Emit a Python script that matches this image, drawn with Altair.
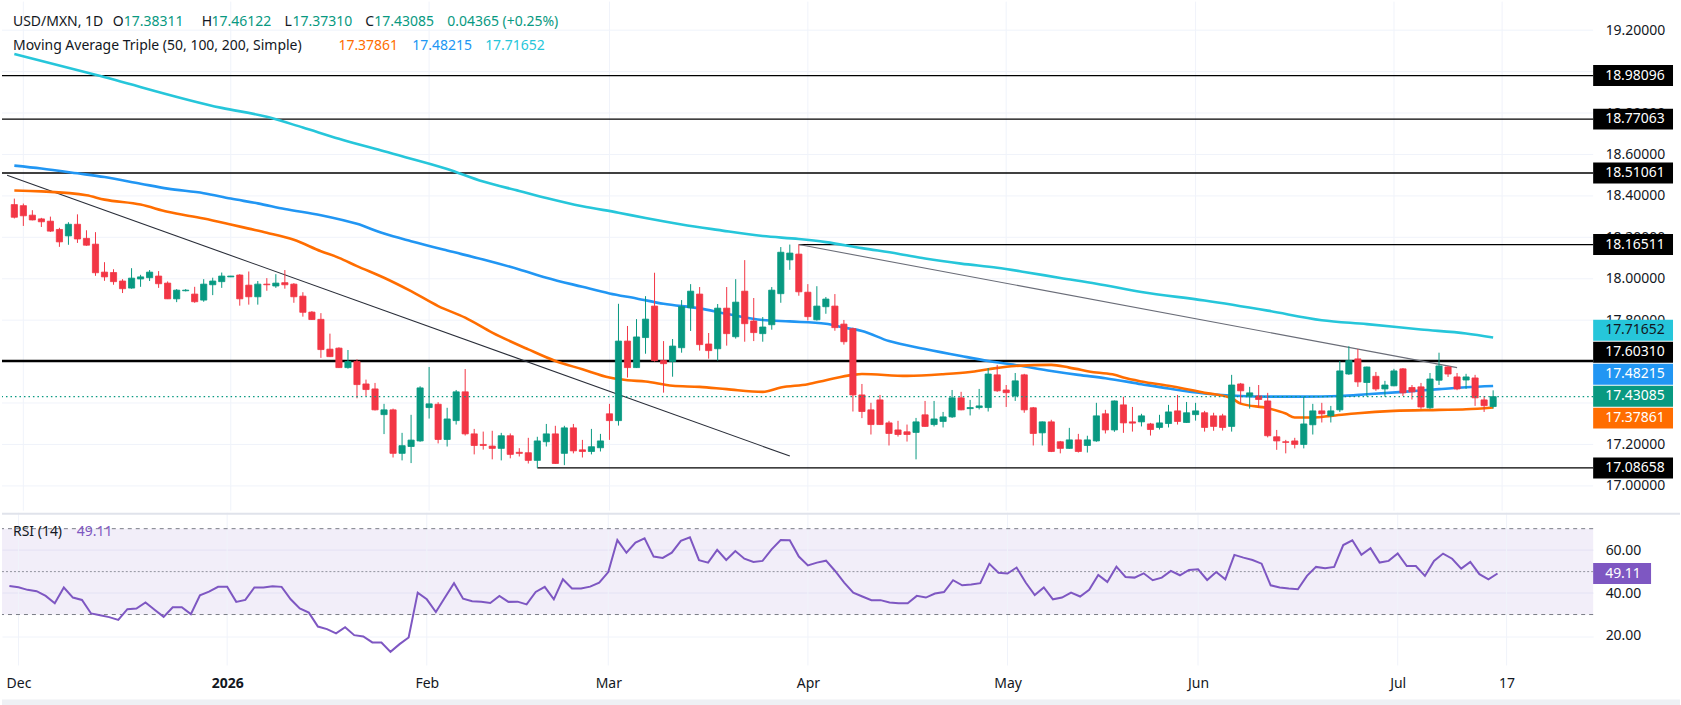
import altair as alt
import pandas as pd
import numpy as np

# ---------------- data ----------------
# daily candles, 2025-11-28 .. 2026-07-16 (weekdays)
opens = [
 18.358, 18.353, 18.307, 18.289, 18.278, 18.238, 18.207, 18.263, 18.195, 18.167,
 18.032, 18.030, 17.989, 17.955, 17.999, 18.005, 18.013, 17.979, 17.903, 17.942,
 17.926, 17.897, 17.971, 17.986, 18.009, 18.018, 17.969, 17.913, 17.974, 17.965,
 17.981, 17.974, 17.916, 17.839, 17.804, 17.660, 17.665, 17.571, 17.600, 17.492,
 17.468, 17.344, 17.367, 17.157, 17.190, 17.217, 17.378, 17.394, 17.224, 17.315,
 17.454, 17.251, 17.200, 17.192, 17.181, 17.242, 17.162, 17.160, 17.123, 17.213,
 17.251, 17.157, 17.280, 17.174, 17.166, 17.184, 17.348, 17.315, 17.699, 17.571,
 17.716, 17.868, 17.605, 17.600, 17.667, 17.860, 17.926, 17.685, 17.662, 17.858,
 17.720, 17.940, 17.796, 17.735, 17.778, 17.928, 18.091, 18.119, 17.935, 17.802,
 17.865, 17.868, 17.781, 17.759, 17.439, 17.367, 17.415, 17.304, 17.270, 17.261,
 17.258, 17.343, 17.296, 17.311, 17.333, 17.425, 17.373, 17.378, 17.378, 17.536,
 17.463, 17.434, 17.536, 17.377, 17.256, 17.309, 17.213, 17.181, 17.222, 17.195,
 17.217, 17.348, 17.270, 17.391, 17.309, 17.309, 17.299, 17.282, 17.301, 17.362,
 17.306, 17.344, 17.353, 17.338, 17.338, 17.287, 17.492, 17.434, 17.434, 17.410,
 17.237, 17.213, 17.217, 17.200, 17.295, 17.362, 17.338, 17.367, 17.540, 17.613,
 17.499, 17.529, 17.468, 17.483, 17.565, 17.475, 17.478, 17.377, 17.510, 17.574,
 17.526, 17.511, 17.521, 17.415, 17.38311]
highs = [
 18.387, 18.363, 18.331, 18.294, 18.300, 18.246, 18.273, 18.311, 18.234, 18.225,
 18.080, 18.046, 17.998, 18.051, 18.019, 18.042, 18.037, 17.987, 17.950, 17.950,
 17.961, 17.998, 18.005, 18.030, 18.014, 18.022, 18.035, 17.989, 18.003, 18.022,
 18.042, 17.979, 17.935, 17.844, 17.834, 17.735, 17.669, 17.656, 17.611, 17.513,
 17.497, 17.396, 17.373, 17.256, 17.343, 17.481, 17.574, 17.404, 17.377, 17.463,
 17.564, 17.275, 17.262, 17.266, 17.256, 17.253, 17.182, 17.232, 17.237, 17.299,
 17.290, 17.290, 17.299, 17.222, 17.275, 17.251, 17.396, 17.879, 17.772, 17.805,
 17.916, 18.029, 17.699, 17.709, 17.897, 17.974, 17.960, 17.738, 17.878, 17.960,
 17.998, 18.090, 17.907, 17.815, 17.960, 18.153, 18.165, 18.16511, 17.974, 17.964,
 17.912, 17.926, 17.801, 17.764, 17.492, 17.401, 17.439, 17.314, 17.314, 17.296,
 17.328, 17.410, 17.410, 17.357, 17.463, 17.454, 17.415, 17.468, 17.569, 17.584,
 17.487, 17.545, 17.541, 17.381, 17.311, 17.319, 17.217, 17.280, 17.251, 17.242,
 17.401, 17.367, 17.412, 17.430, 17.381, 17.348, 17.304, 17.343, 17.391, 17.439,
 17.405, 17.401, 17.362, 17.353, 17.348, 17.536, 17.497, 17.478, 17.487, 17.449,
 17.270, 17.222, 17.232, 17.430, 17.396, 17.401, 17.386, 17.603, 17.674, 17.661,
 17.576, 17.550, 17.507, 17.565, 17.569, 17.487, 17.497, 17.545, 17.643, 17.579,
 17.545, 17.541, 17.536, 17.434, 17.46122]
lows = [
 18.291, 18.255, 18.282, 18.250, 18.226, 18.154, 18.164, 18.173, 18.159, 18.014,
 17.990, 17.971, 17.931, 17.952, 17.961, 17.989, 17.956, 17.902, 17.887, 17.939,
 17.884, 17.889, 17.921, 17.956, 18.008, 17.870, 17.875, 17.875, 17.942, 17.956,
 17.952, 17.884, 17.817, 17.801, 17.618, 17.622, 17.569, 17.566, 17.423, 17.434,
 17.364, 17.250, 17.137, 17.123, 17.110, 17.213, 17.325, 17.205, 17.190, 17.296,
 17.243, 17.152, 17.175, 17.128, 17.123, 17.133, 17.142, 17.108, 17.0866, 17.190,
 17.106, 17.100, 17.157, 17.137, 17.152, 17.166, 17.222, 17.291, 17.523, 17.569,
 17.638, 17.600, 17.450, 17.527, 17.643, 17.748, 17.653, 17.614, 17.605, 17.677,
 17.711, 17.696, 17.699, 17.696, 17.754, 17.884, 18.043, 17.918, 17.798, 17.798,
 17.831, 17.749, 17.682, 17.359, 17.327, 17.248, 17.294, 17.195, 17.238, 17.214,
 17.128, 17.285, 17.287, 17.282, 17.328, 17.365, 17.340, 17.369, 17.359, 17.454,
 17.381, 17.410, 17.353, 17.195, 17.195, 17.163, 17.157, 17.179, 17.161, 17.161,
 17.213, 17.253, 17.261, 17.256, 17.262, 17.287, 17.243, 17.272, 17.282, 17.296,
 17.304, 17.315, 17.262, 17.266, 17.267, 17.262, 17.396, 17.373, 17.378, 17.234,
 17.174, 17.157, 17.181, 17.181, 17.248, 17.306, 17.306, 17.357, 17.536, 17.478,
 17.431, 17.459, 17.430, 17.481, 17.434, 17.417, 17.372, 17.372, 17.487, 17.526,
 17.462, 17.468, 17.386, 17.357, 17.37310]
closes = [
 18.297, 18.304, 18.284, 18.275, 18.230, 18.178, 18.263, 18.192, 18.162, 18.029,
 18.009, 17.986, 17.952, 18.003, 18.009, 18.032, 17.976, 17.903, 17.945, 17.945,
 17.889, 17.974, 17.989, 18.013, 18.013, 17.903, 17.913, 17.974, 17.971, 17.979,
 17.971, 17.913, 17.838, 17.803, 17.658, 17.624, 17.571, 17.600, 17.489, 17.465,
 17.367, 17.367, 17.157, 17.194, 17.221, 17.473, 17.396, 17.224, 17.323, 17.454,
 17.251, 17.195, 17.195, 17.181, 17.242, 17.152, 17.157, 17.123, 17.217, 17.251,
 17.108, 17.280, 17.169, 17.166, 17.189, 17.217, 17.315, 17.699, 17.571, 17.719,
 17.805, 17.605, 17.590, 17.675, 17.865, 17.940, 17.682, 17.653, 17.858, 17.735,
 17.887, 17.783, 17.740, 17.767, 17.945, 18.128, 18.124, 17.937, 17.817, 17.868,
 17.902, 17.764, 17.696, 17.439, 17.359, 17.296, 17.296, 17.253, 17.248, 17.248,
 17.309, 17.287, 17.323, 17.333, 17.425, 17.367, 17.378, 17.386, 17.540, 17.459,
 17.450, 17.507, 17.367, 17.253, 17.309, 17.166, 17.181, 17.222, 17.166, 17.222,
 17.338, 17.270, 17.410, 17.304, 17.303, 17.338, 17.272, 17.304, 17.357, 17.311,
 17.353, 17.362, 17.282, 17.287, 17.282, 17.487, 17.459, 17.449, 17.417, 17.242,
 17.217, 17.210, 17.200, 17.299, 17.362, 17.348, 17.362, 17.555, 17.605, 17.502,
 17.574, 17.468, 17.487, 17.555, 17.449, 17.454, 17.381, 17.516, 17.579, 17.540,
 17.468, 17.526, 17.425, 17.3872, 17.43085]

rsi_values = [
 43.3, 42.7, 41.5, 40.9, 38.7, 35.3, 42.6, 37.9, 36.8, 30.5,
 29.7, 28.8, 27.5, 32.5, 32.8, 35.6, 32.2, 28.9, 33.4, 33.4,
 30.2, 39.0, 40.7, 42.9, 42.9, 35.9, 36.8, 42.6, 42.6, 43.2,
 42.9, 37.1, 32.8, 30.9, 24.4, 23.2, 21.2, 24.1, 20.4, 19.8,
 17.0, 17.0, 12.6, 16.2, 19.3, 40.2, 37.1, 31.2, 37.9, 44.6,
 37.4, 36.2, 36.0, 35.4, 38.7, 35.9, 36.0, 34.7, 40.5, 42.9,
 37.1, 46.4, 42.1, 42.1, 43.0, 44.9, 49.8, 64.7, 58.8, 63.5,
 65.5, 57.0, 56.4, 58.8, 64.3, 66.0, 55.3, 54.2, 60.1, 55.4,
 59.6, 56.0, 54.5, 55.0, 60.4, 64.7, 64.6, 57.0, 52.9, 54.2,
 55.1, 50.3, 44.9, 40.2, 38.4, 36.7, 36.7, 35.6, 35.3, 35.3,
 38.7, 37.9, 39.8, 40.5, 46.0, 43.6, 44.0, 44.6, 53.6, 49.5,
 49.1, 51.9, 44.9, 39.1, 42.6, 37.1, 37.9, 40.2, 38.4, 41.5,
 48.4, 45.2, 52.3, 47.5, 47.2, 49.2, 46.0, 47.2, 50.3, 48.3,
 50.8, 51.1, 46.1, 49.8, 46.4, 57.8, 56.5, 55.4, 53.7, 43.6,
 42.6, 42.1, 41.8, 48.0, 52.2, 51.6, 52.2, 62.4, 64.6, 57.8,
 60.9, 54.2, 55.0, 58.5, 52.6, 52.6, 48.0, 55.0, 58.4, 56.0,
 51.4, 54.5, 48.8, 46.4, 49.11]

# moving averages, sampled at bar numbers (bar 0 = 2025-12-01)
ma50_bar = [-1, 2, 7, 9, 13, 16, 20, 23, 25, 27, 30, 33, 35, 37, 40, 43, 46, 49, 52, 56,
            59, 62, 65, 67, 69, 72, 75, 78, 82, 84, 87, 89, 92, 93, 98, 102, 105, 107, 110, 114,
            116, 119, 121, 122, 124, 127, 131, 134, 135, 138, 140, 141, 143, 145, 148, 152, 157, 160, 163]
ma50_val = [18.426, 18.422, 18.403, 18.382, 18.358, 18.323, 18.291, 18.262, 18.242, 18.222,
            18.188, 18.133, 18.101, 18.061, 18.005, 17.940, 17.868, 17.812, 17.740, 17.659,
            17.603, 17.563, 17.523, 17.510, 17.504, 17.483, 17.478, 17.467, 17.454, 17.475,
            17.491, 17.510, 17.536, 17.540, 17.531, 17.539, 17.550, 17.563, 17.579, 17.584,
            17.571, 17.547, 17.536, 17.523, 17.504, 17.483, 17.450, 17.423, 17.397, 17.375,
            17.349, 17.330, 17.330, 17.338, 17.351, 17.362, 17.367, 17.370, 17.37861]
ma100_bar = [-1, 2, 6, 9, 13, 16, 20, 23, 26, 29, 33, 37, 40, 43, 47, 51, 55, 58, 62, 65,
             68, 71, 75, 78, 82, 85, 89, 91, 93, 96, 100, 104, 107, 110, 114, 117, 120, 124, 127, 131,
             135, 138, 142, 146, 149, 153, 157, 160, 163]
ma100_val = [18.546, 18.532, 18.509, 18.491, 18.459, 18.435, 18.413, 18.387, 18.364, 18.337,
             18.307, 18.265, 18.218, 18.181, 18.136, 18.093, 18.045, 18.005, 17.961, 17.929,
             17.905, 17.879, 17.857, 17.831, 17.801, 17.794, 17.783, 17.764, 17.748, 17.699,
             17.661, 17.627, 17.603, 17.584, 17.555, 17.536, 17.520, 17.491, 17.470, 17.446,
             17.434, 17.431, 17.431, 17.434, 17.442, 17.454, 17.467, 17.476, 17.48215]
ma200_bar = [-1, 8, 22, 27, 31, 35, 40, 47, 51, 55, 58, 62, 66, 69, 73, 77, 82, 86, 89, 93,
             97, 100, 104, 108, 111, 115, 119, 124, 131, 138, 144, 149, 155, 160, 163]
ma200_val = [19.085, 18.985, 18.825, 18.782, 18.730, 18.676, 18.615, 18.530, 18.469, 18.424,
             18.390, 18.350, 18.319, 18.293, 18.262, 18.236, 18.206, 18.192, 18.177, 18.148,
             18.121, 18.098, 18.073, 18.053, 18.033, 18.004, 17.976, 17.936, 17.895, 17.846,
             17.800, 17.781, 17.755, 17.736, 17.71652]

# drawn levels and trend lines
full_levels = [18.98096, 18.77063, 18.51061]
key_level = 17.60310
part_levels = [18.16511, 17.08658]
part_start_bar = [86, 57]
trend1_bar = [-1.8, 85]
trend1_val = [18.500, 17.144]
trend2_bar = [86, 159]
trend2_val = [18.16511, 17.571]

tick_names = ["Dec", "2026", "Feb", "Mar", "Apr", "May", "Jun", "Jul", "17"]
tick_dates = ["2025-12-01", "2026-01-01", "2026-02-02", "2026-03-02", "2026-04-01",
              "2026-05-01", "2026-06-01", "2026-07-01", "2026-07-17"]
price_grid = [17.0, 17.2, 17.4, 17.6, 17.8, 18.0, 18.2, 18.4, 18.6, 18.8, 19.0, 19.2]
# price labels that are not fully covered by the level tags in the reference
price_labels = [17.0, 17.2, 17.8, 18.0, 18.2, 18.4, 18.6, 18.8, 19.2]
rsi_ticks = [20, 40, 60]

# ---------------- styling ----------------
FONT = "Noto Sans"
FS = 14
DARK = "#131722"
GREEN = "#089981"
RED = "#F23645"
ORANGE = "#FF6D00"
BLUE = "#2196F3"
TEAL = "#26C6DA"
PURPLE = "#7E57C2"
GRID = "#F0F3FA"
W, H_MAIN, H_RSI = 1594, 510, 153

dates = pd.bdate_range("2025-11-28", periods=len(closes))
bars = [int(b) for b in np.busday_count(np.datetime64("2025-12-01"), dates.values.astype("datetime64[D]"))]
tick_bars = [int(b) for b in np.busday_count(np.datetime64("2025-12-01"),
                                             np.array(tick_dates, dtype="datetime64[D]"))]

cdf = pd.DataFrame({"bar": bars, "date": dates.strftime("%Y-%m-%d"),
                    "o": opens, "h": highs, "l": lows, "c": closes})
cdf["dir"] = np.where(cdf["c"] >= cdf["o"], "up", "down")

xscale = alt.Scale(domain=[-1.815, 173.54], nice=False, zero=False)
yscale = alt.Scale(domain=[16.880, 19.338], nice=False, zero=False)
rscale = alt.Scale(domain=[6.28, 77.44], nice=False, zero=False)
dir_color = alt.Scale(domain=["up", "down"], range=[GREEN, RED])

# one axis definition shared by every layer that uses the scale
PAXIS = alt.Axis(orient="right", values=price_labels, format=".5f", grid=False,
                 domain=False, ticks=False, labelPadding=12,
                 labelAlign="left", labelFont=FONT, labelFontSize=FS,
                 labelColor=DARK, labelOverlap=False, labelFlush=False, title=None)
RAXIS = alt.Axis(orient="right", values=rsi_ticks, format=".2f", grid=True, gridColor=GRID,
                 domain=False, ticks=False, labelPadding=12, labelAlign="left",
                 labelFont=FONT, labelFontSize=FS, labelColor=DARK, title=None)

one = alt.Data(values=[{}])


def txt(s, x, y, color=DARK, weight="normal"):
    return alt.Chart(one).mark_text(align="left", baseline="middle", font=FONT, fontSize=FS,
                                    color=color, fontWeight=weight).encode(
        x=alt.value(x), y=alt.value(y), text=alt.value(s))


def PY(field):
    return alt.Y(field, scale=yscale, axis=PAXIS, title=None)


def MX(field):
    return alt.X(field, scale=xscale, axis=None, title=None)


ticks_df = pd.DataFrame({"bar": tick_bars, "name": tick_names})

# ---------------- main panel ----------------
vgrid = alt.Chart(ticks_df).mark_rule(color=GRID, strokeWidth=1).encode(x=MX("bar:Q"))
hgrid = alt.Chart(pd.DataFrame({"p": price_grid})).mark_rule(color=GRID, strokeWidth=1).encode(
    y=PY("p:Q"))

levels = alt.Chart(pd.DataFrame({"p": full_levels})).mark_rule(
    color="#000000", strokeWidth=1.3).encode(y=PY("p:Q"))
key = alt.Chart(pd.DataFrame({"p": [key_level]})).mark_rule(
    color="#000000", strokeWidth=2.6).encode(y=PY("p:Q"))
part_df = pd.DataFrame({"p": part_levels, "bar": part_start_bar})
parts = alt.Chart(part_df).mark_rule(color="#000000", strokeWidth=1.3).encode(
    x=MX("bar:Q"), x2=alt.value("width"), y=PY("p:Q"))


def line_layer(bx, vals, color, width, interp="monotone"):
    d = pd.DataFrame({"bar": bx, "v": vals})
    return alt.Chart(d).mark_line(color=color, strokeWidth=width, interpolate=interp).encode(
        x=MX("bar:Q"), y=PY("v:Q"))


t1 = line_layer(trend1_bar, trend1_val, "#2A2E39", 1.1, "linear")
t2 = line_layer(trend2_bar, trend2_val, "#6A6D78", 1.1, "linear")
m200 = line_layer(ma200_bar, ma200_val, TEAL, 2.6)
m100 = line_layer(ma100_bar, ma100_val, BLUE, 2.6)
m50 = line_layer(ma50_bar, ma50_val, ORANGE, 2.6)

wicks = alt.Chart(cdf).mark_rule(strokeWidth=1).encode(
    x=MX("bar:Q"), y=PY("l:Q"), y2="h:Q",
    color=alt.Color("dir:N", scale=dir_color, legend=None))
bodies = alt.Chart(cdf).mark_bar(width=6.2, strokeWidth=0.8).encode(
    x=MX("bar:Q"), y=PY("o:Q"), y2="c:Q",
    color=alt.Color("dir:N", scale=dir_color, legend=None),
    stroke=alt.Color("dir:N", scale=dir_color, legend=None))

last_line = alt.Chart(pd.DataFrame({"p": [closes[-1]]})).mark_rule(
    color=GREEN, strokeDash=[1.5, 3], strokeWidth=1.2).encode(y=PY("p:Q"))

BOX = "M-1,-0.2625L1,-0.2625L1,0.2625L-1,0.2625Z"
tag_specs = [  # price, fill, text colour, vertical nudge (px) to avoid overlap
    (18.98096, "#000000", "#FFFFFF", 0),
    (18.77063, "#000000", "#FFFFFF", 0),
    (18.51061, "#000000", "#FFFFFF", 0),
    (18.16511, "#000000", "#FFFFFF", 0),
    (ma200_val[-1], TEAL, DARK, -7.2),
    (key_level, "#000000", "#FFFFFF", -8.7),
    (ma100_val[-1], BLUE, "#FFFFFF", -11.8),
    (closes[-1], GREEN, "#FFFFFF", -0.4),
    (ma50_val[-1], ORANGE, "#FFFFFF", 10.7),
    (17.08658, "#000000", "#FFFFFF", 0),
]
tags = []
for p, fill, tc, dy in tag_specs:
    d = pd.DataFrame({"p": [p], "t": [f"{p:.5f}"]})
    tags.append(alt.Chart(d).mark_point(shape=BOX, size=6400, filled=True, opacity=1,
                                        color=fill, strokeWidth=0, yOffset=dy).encode(
        x=alt.value(1634), y=PY("p:Q")))
    tags.append(alt.Chart(d).mark_text(align="left", baseline="middle", font=FONT, fontSize=FS,
                                       color=tc, yOffset=dy).encode(
        x=alt.value(1606), y=PY("p:Q"), text="t:N"))

chg = closes[-1] - closes[-2]
pct = chg / closes[-2] * 100
titles = [
    txt("USD/MXN, 1D", 11, 20), txt("O", 111, 20), txt(f"{opens[-1]:.5f}", 122, 20, GREEN),
    txt("H", 200, 20), txt(f"{highs[-1]:.5f}", 210, 20, GREEN),
    txt("L", 283, 20), txt(f"{lows[-1]:.5f}", 291, 20, GREEN),
    txt("C", 364, 20), txt(f"{closes[-1]:.5f}", 373, 20, GREEN),
    txt(f"{chg:.5f} ({pct:+.2f}%)", 446, 20, GREEN),
    txt("Moving Average Triple (50, 100, 200, Simple)", 11, 44),
    txt(f"{ma50_val[-1]:.5f}", 337, 44, ORANGE),
    txt(f"{ma100_val[-1]:.5f}", 411, 44, BLUE),
    txt(f"{ma200_val[-1]:.5f}", 484, 44, TEAL),
]

main = alt.layer(vgrid, hgrid, levels, key, parts, t1, t2, m200, m100, m50, wicks, bodies,
                 last_line, *tags, *titles).properties(width=W, height=H_MAIN)

# ---------------- RSI panel ----------------
name_expr = " : ".join(f"datum.value == {b} ? '{n}'" for b, n in zip(tick_bars, tick_names)) + " : ''"
XAXIS = alt.Axis(values=tick_bars, labelExpr=name_expr, grid=False, ticks=False,
                 domain=False, labelPadding=11, labelFont=FONT, labelFontSize=FS,
                 labelColor=DARK, labelFlush=False, labelOverlap=False, labelBound=False,
                 title=None,
                 labelFontWeight={"condition": {"test": f"datum.value == {tick_bars[1]}",
                                                "value": "bold"}, "value": "normal"})


def RX(field):
    return alt.X(field, scale=xscale, axis=XAXIS, title=None)


def RY(field):
    return alt.Y(field, scale=rscale, axis=RAXIS, title=None)


rgrid = alt.Chart(ticks_df).mark_rule(color=GRID, strokeWidth=1).encode(x=RX("bar:Q"))
band = alt.Chart(pd.DataFrame({"lo": [30], "hi": [70]})).mark_rect(color=PURPLE, opacity=0.1).encode(
    y=RY("lo:Q"), y2="hi:Q")
bounds = alt.Chart(pd.DataFrame({"v": [30, 70]})).mark_rule(
    color="#787B86", strokeDash=[4, 4], strokeWidth=1).encode(y=RY("v:Q"))
mid = alt.Chart(pd.DataFrame({"v": [50]})).mark_rule(
    color="#787B86", strokeDash=[2, 2], strokeWidth=1, opacity=0.8).encode(y=RY("v:Q"))
rdf = pd.DataFrame({"bar": bars, "rsi": rsi_values})
rline = alt.Chart(rdf).mark_line(color=PURPLE, strokeWidth=2).encode(
    x=RX("bar:Q"), y=RY("rsi:Q"))
rd = pd.DataFrame({"v": [rsi_values[-1]], "t": [f"{rsi_values[-1]:.2f}"]})
rtag = alt.Chart(rd).mark_point(shape="M-1,-0.362L1,-0.362L1,0.362L-1,0.362Z", size=3364,
                                filled=True, opacity=1, color=PURPLE, strokeWidth=0).encode(
    x=alt.value(1623), y=RY("v:Q"))
rtagtxt = alt.Chart(rd).mark_text(align="left", baseline="middle", font=FONT, fontSize=FS,
                                  color="#FFFFFF").encode(
    x=alt.value(1606), y=RY("v:Q"), text="t:N")
sep = alt.Chart(one).mark_rule(color="#E0E3EB", strokeWidth=2).encode(
    x=alt.value(0), x2=alt.value(1681), y=alt.value(1))
bottom = alt.Chart(one).mark_rect(color="#EEF0F4").encode(
    x=alt.value(0), x2=alt.value(1681), y=alt.value(187), y2=alt.value(195))
rtitles = [txt("RSI (14)", 11, 19), txt(f"{rsi_values[-1]:.2f}", 75, 19, PURPLE)]

rsi = alt.layer(band, rgrid, bounds, mid, rline, rtag, rtagtxt, sep, bottom,
                *rtitles).properties(width=W, height=H_RSI)

chart = alt.vconcat(main, rsi, spacing=0).properties(
    padding=0, background="#FFFFFF").configure_view(stroke=None)

chart.save("out.html", embed_options={"renderer": "svg", "actions": False})
